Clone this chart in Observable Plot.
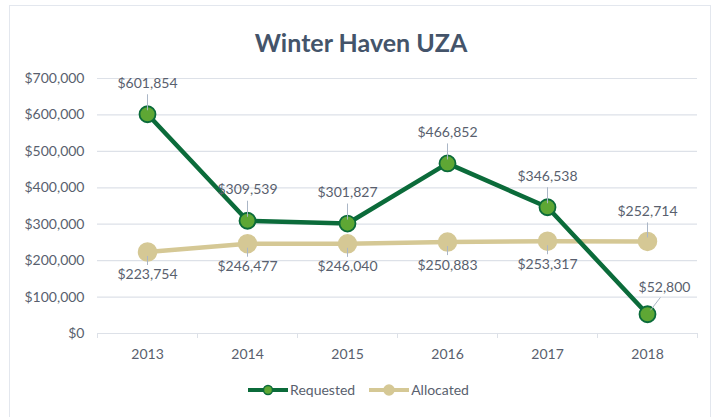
<!DOCTYPE html>
<html>
<head>
<meta charset="utf-8">
<script src="https://cdn.jsdelivr.net/npm/d3@7"></script>
<script src="https://cdn.jsdelivr.net/npm/@observablehq/plot@0.6"></script>
<style>
  html, body { margin: 0; padding: 0; background: #fff; }
  body { width: 717px; height: 417px; position: relative; overflow: hidden; font-family: Lato, "Open Sans", sans-serif; }
  #frame { position: absolute; left: 9px; top: 5px; width: 702px; height: 430px; border: 1.5px solid #e3e7ee; box-sizing: border-box; z-index: 2; pointer-events: none; }
  #title { position: absolute; left: 10px; width: 702px; top: 25px; line-height: 34px; text-align: center; font-size: 25px; font-weight: bold; color: #44546a; }
  #chart { position: absolute; left: 0; top: 60px; }
  #legend { position: absolute; top: 381px; left: 0; width: 717px; display: flex; justify-content: center; align-items: center; font-size: 14px; color: #595f6e; }
  #legend .item { display: flex; align-items: center; margin: 0 7px; }
  #legend svg { margin-right: 2px; }
</style>
</head>
<body>
<div id="frame"></div>
<div id="title">Winter Haven UZA</div>
<div id="chart"></div>
<div id="legend"></div>
<script>
// ---- data ----
const years = [2013, 2014, 2015, 2016, 2017, 2018];
const requested = [601854, 309539, 301827, 466852, 346538, 52800];
const allocated = [223754, 246477, 246040, 250883, 253317, 252714];
const yTicks = [0, 100000, 200000, 300000, 400000, 500000, 600000, 700000];
const seriesNames = ["Requested", "Allocated"];

// ---- styles ----
const reqLine = "#0b6b3a", reqDot = "#5ea734";
const allocColor = "#d5c895";
const textColor = "#595f6e";
const gridColor = "#dde1e8";
const leaderColor = "#aab6c6";

const width = 717, height = 310;
const margin = {top: 18, right: 20, bottom: 37, left: 97};
const plotH = height - margin.top - margin.bottom;
const plotW = width - margin.left - margin.right;
const yMax = yTicks[yTicks.length - 1];
const kY = yMax / plotH;                 // data units per pixel (y)
const kX = years.length / plotW;         // data units per pixel (x)

const reqData = years.map((y, i) => ({year: y, value: requested[i], other: allocated[i]}));
const allocData = years.map((y, i) => ({year: y, value: allocated[i], other: requested[i]}));
const boundaries = years.map(y => y - 0.5).concat([years[years.length - 1] + 0.5]);

const fmt = d3.format("$,.0f");

// label placement derived from relative position of the two series
function reqPlace(d) {
  if (d.value < d.other) return {dx: 17, dy: -27, l: [3, 4, 13, 17]};
  return {dx: 0, dy: -31, l: [0, 4, 0, 20]};
}
function allocPlace(d) {
  if (d.other < d.value) return {dx: 0, dy: -30, l: [0, 4, 0, 19]};
  return {dx: 0, dy: 23, l: [0, -4, 0, -13]};
}
function labels(data, place) {
  return data.map(d => { const p = place(d); return {...d, ...p,
    x1: d.year + p.l[0] * kX, y1: d.value + p.l[1] * kY,
    x2: d.year + p.l[2] * kX, y2: d.value + p.l[3] * kY}; });
}
const reqLabels = labels(reqData, reqPlace);
const allocLabels = labels(allocData, allocPlace);

const textOpts = {fill: textColor, fontSize: 14, text: d => fmt(d.value), x: "year", y: "value"};

const chart = Plot.plot({
  width, height,
  marginTop: margin.top, marginRight: margin.right, marginBottom: margin.bottom, marginLeft: margin.left,
  style: {fontFamily: "Lato, 'Open Sans', sans-serif", fontSize: "14px", color: textColor, background: "transparent"},
  x: {domain: [years[0] - 0.5, years[years.length - 1] + 0.5]},
  y: {domain: [0, yMax]},
  marks: [
    Plot.ruleY(yTicks, {stroke: gridColor, strokeWidth: 1.2}),
    Plot.axisY({ticks: yTicks, tickSize: 0, tickPadding: 13, tickFormat: fmt, fill: textColor, fontSize: 14, label: null}),
    Plot.axisX({ticks: boundaries, tickSize: 5, stroke: gridColor, tickFormat: () => "", label: null}),
    Plot.axisX({ticks: years, tickSize: 0, tickPadding: 16, tickFormat: d => String(d), fill: textColor, fontSize: 14, label: null}),
    // Allocated
    Plot.line(allocData, {x: "year", y: "value", stroke: allocColor, strokeWidth: 4.5}),
    Plot.dot(allocData, {x: "year", y: "value", r: 9, fill: allocColor, stroke: allocColor}),
    // Requested
    Plot.line(reqData, {x: "year", y: "value", stroke: reqLine, strokeWidth: 4.5}),
    Plot.dot(reqData, {x: "year", y: "value", r: 8, fill: reqDot, stroke: reqLine, strokeWidth: 1.8}),
    // leader lines
    Plot.link(reqLabels, {x1: "x1", y1: "y1", x2: "x2", y2: "y2", stroke: leaderColor, strokeWidth: 1}),
    Plot.link(allocLabels, {x1: "x1", y1: "y1", x2: "x2", y2: "y2", stroke: leaderColor, strokeWidth: 1}),
    // data labels
    ...reqLabels.map(d => Plot.text([d], {...textOpts, dx: d.dx, dy: d.dy})),
    ...allocLabels.map(d => Plot.text([d], {...textOpts, dx: d.dx, dy: d.dy}))
  ]
});
document.getElementById("chart").appendChild(chart);

// legend
const legend = document.getElementById("legend");
const legendStyles = [
  {line: reqLine, fill: reqDot, stroke: reqLine, r: 4.5},
  {line: allocColor, fill: allocColor, stroke: allocColor, r: 5}
];
seriesNames.forEach((name, i) => {
  const s = legendStyles[i];
  const item = document.createElement("div");
  item.className = "item";
  item.innerHTML = `<svg width="40" height="14"><line x1="0" y1="7" x2="40" y2="7" stroke="${s.line}" stroke-width="4"/><circle cx="20" cy="7" r="${s.r}" fill="${s.fill}" stroke="${s.stroke}" stroke-width="1.5"/></svg><span>${name}</span>`;
  legend.appendChild(item);
});
</script>
</body>
</html>
